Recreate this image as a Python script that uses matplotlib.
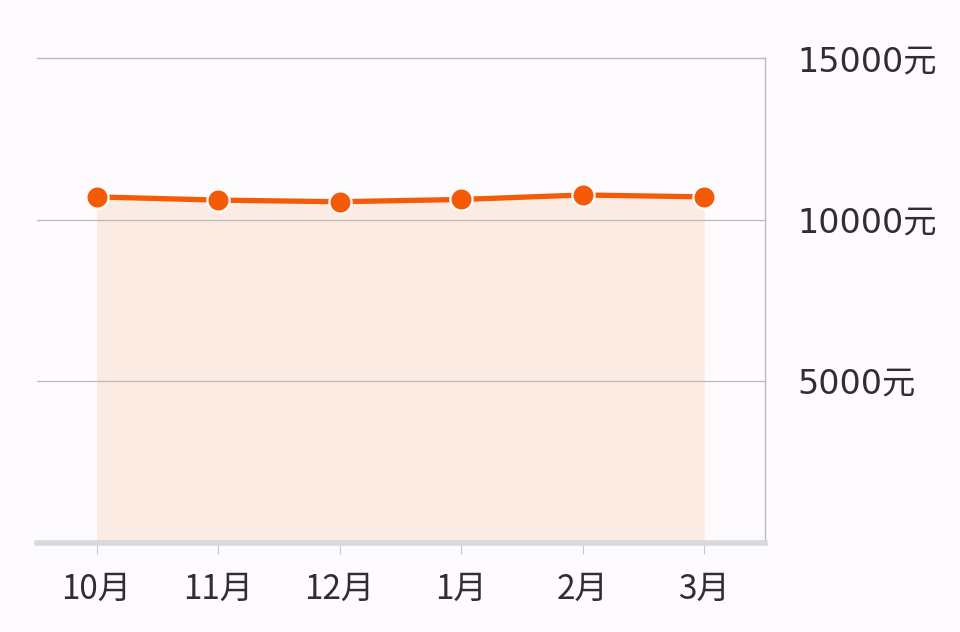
import matplotlib
matplotlib.use("Agg")
import matplotlib.pyplot as plt

months = ["10月", "11月", "12月", "1月", "2月", "3月"]
salary = [10700, 10600, 10550, 10620, 10760, 10700]
yticks = [5000, 10000, 15000]
ytick_labels = ["5000元", "10000元", "15000元"]

plt.rcParams['font.family'] = ['Noto Sans CJK SC', 'DejaVu Sans']

bg = '#fdfbfd'
fig = plt.figure(figsize=(9.6, 6.32), dpi=100, facecolor=bg)
ax = fig.add_axes([37/960, (632-542.5)/632, (765-37)/960, (542.5-58)/632])
ax.set_facecolor(bg)

x = list(range(len(months)))
ax.fill_between(x, salary, 0, color='#fcebe3', zorder=1, linewidth=0)
ax.plot(x, salary, color='#f55a06', lw=3.8, zorder=3, solid_capstyle='butt',
        marker='o', markersize=16, markerfacecolor='#f55a06',
        markeredgecolor='white', markeredgewidth=1.6)

ax.set_xlim(-0.49, 5.5)
ax.set_ylim(0, 15000)

for v in yticks[:-1]:
    ax.axhline(v, color='#bdb8bc', lw=0.9, zorder=2)

ax.spines['left'].set_visible(False)
ax.spines['top'].set_color('#bdb8bc')
ax.spines['top'].set_linewidth(1.0)
ax.spines['right'].set_color('#bdb8bc')
ax.spines['right'].set_linewidth(1.0)
ax.spines['bottom'].set_color('#d9d8dc')
ax.spines['bottom'].set_linewidth(4)

ax.set_xticks(x)
ax.set_xticklabels(months, fontsize=24, color='#332c38')
ax.tick_params(axis='x', length=8, width=0.8, color='#c8c6ca', pad=13)

ax.set_yticks(yticks)
ax.set_yticklabels(ytick_labels, fontsize=24, color='#332c38',
                   family=['DejaVu Sans', 'Noto Sans CJK SC'])
ax.yaxis.tick_right()
ax.tick_params(axis='y', length=0, pad=23)

fig.savefig("out.png", dpi=100, facecolor=bg)
